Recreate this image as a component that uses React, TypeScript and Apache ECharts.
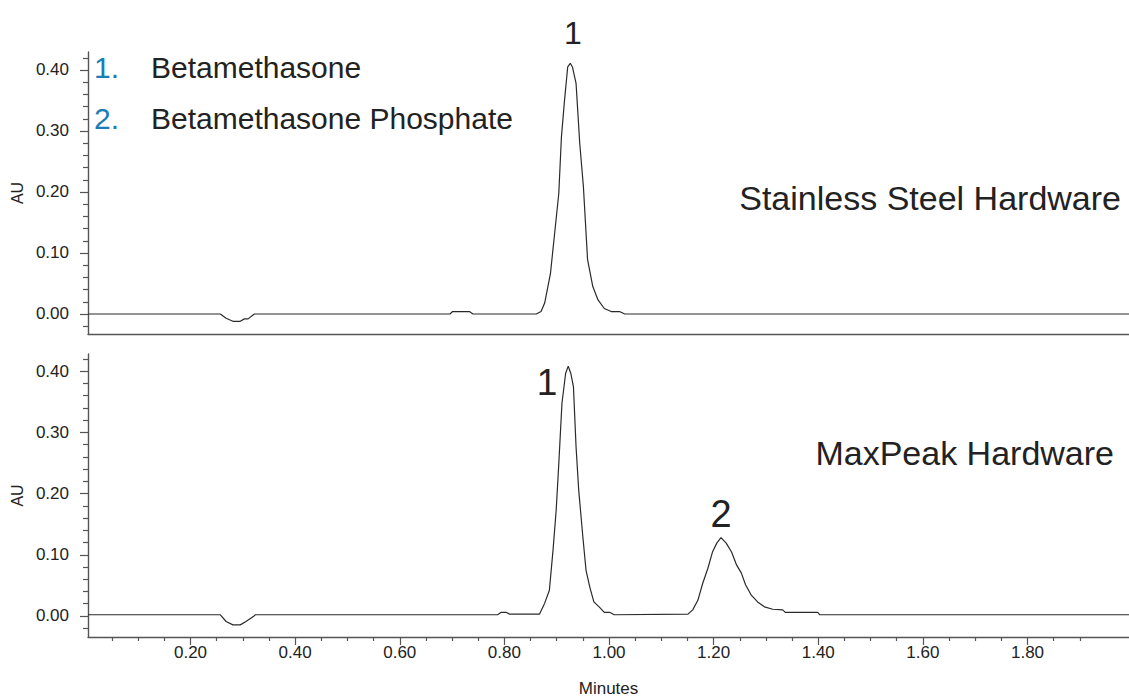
import React, { useEffect, useRef } from "react";
import * as echarts from "echarts";

// ---------- data ----------
const topTime = [0.004, 0.257, 0.268, 0.281, 0.295, 0.303, 0.31, 0.322, 0.696, 0.701, 0.733, 0.74, 0.861, 0.87, 0.877, 0.888, 0.896, 0.904, 0.909, 0.915, 0.921, 0.926, 0.93, 0.937, 0.944, 0.951, 0.959, 0.969, 0.979, 0.991, 1.004, 1.02, 1.03, 1.994];
const topAU = [0, 0, -0.007, -0.012, -0.012, -0.008, -0.008, 0, 0, 0.004, 0.004, 0, 0, 0.004, 0.018, 0.066, 0.132, 0.198, 0.29, 0.351, 0.405, 0.411, 0.405, 0.378, 0.28, 0.209, 0.089, 0.045, 0.023, 0.009, 0.004, 0.004, 0, 0];

const bottomTime = [0.004, 0.257, 0.268, 0.281, 0.295, 0.306, 0.32, 0.324, 0.787, 0.794, 0.803, 0.81, 0.867, 0.877, 0.886, 0.893, 0.899, 0.904, 0.91, 0.917, 0.922, 0.927, 0.932, 0.937, 0.942, 0.95, 0.956, 0.963, 0.971, 0.982, 0.991, 1.001, 1.01, 1.151, 1.16, 1.17, 1.179, 1.189, 1.198, 1.206, 1.214, 1.224, 1.234, 1.244, 1.253, 1.261, 1.272, 1.284, 1.297, 1.313, 1.332, 1.337, 1.399, 1.403, 1.994];
const bottomAU = [0.002, 0.002, -0.009, -0.0145, -0.0145, -0.009, -0.001, 0.002, 0.002, 0.006, 0.006, 0.003, 0.003, 0.021, 0.042, 0.108, 0.173, 0.249, 0.347, 0.396, 0.408, 0.396, 0.374, 0.276, 0.206, 0.129, 0.075, 0.048, 0.023, 0.014, 0.006, 0.006, 0.002, 0.003, 0.01, 0.026, 0.053, 0.078, 0.105, 0.119, 0.128, 0.119, 0.105, 0.083, 0.07, 0.051, 0.034, 0.023, 0.015, 0.011, 0.01, 0.006, 0.006, 0.002, 0.002];

const yMajorTicks = [0, 0.1, 0.2, 0.3, 0.4];
const yMinorTicks = [-0.02, 0.02, 0.04, 0.06, 0.08, 0.12, 0.14, 0.16, 0.18, 0.22, 0.24, 0.26, 0.28, 0.32, 0.34, 0.36, 0.38, 0.42];
const xMajorTicks = [0.2, 0.4, 0.6, 0.8, 1.0, 1.2, 1.4, 1.6, 1.8];
const xMinorTicks = [0.05, 0.1, 0.15, 0.25, 0.3, 0.35, 0.45, 0.5, 0.55, 0.65, 0.7, 0.75, 0.85, 0.9, 0.95, 1.05, 1.1, 1.15, 1.25, 1.3, 1.35, 1.45, 1.5, 1.55, 1.65, 1.7, 1.75, 1.85, 1.9];

const compounds = ["Betamethasone", "Betamethasone Phosphate"];
const panelTitles = ["Stainless Steel Hardware", "MaxPeak Hardware"];

const FONT = "'Liberation Sans', Arial, Helvetica, sans-serif";
const AXIS_COLOR = "#555";
const TEXT_COLOR = "#222";
const BLUE = "#1b7db6";

const X_MIN = 0.004;
const X_MAX = 1.994;

function pair(t: number[], v: number[]) {
  return t.map((x, i) => [x, v[i]]);
}

export default function App() {
  const ref = useRef<HTMLDivElement>(null);
  useEffect(() => {
    if (!ref.current) return;
    const chart = echarts.init(ref.current, undefined, { renderer: "svg" });

    const yMajor = (gridIndex: number, min: number, max: number) => ({
      type: "value",
      gridIndex,
      position: "left",
      min,
      max,
      name: "AU",
      nameLocation: "middle",
      nameGap: 57,
      nameTextStyle: { fontFamily: FONT, fontSize: 16, color: TEXT_COLOR },
      axisLine: { show: true, onZero: false, lineStyle: { color: AXIS_COLOR, width: 1.4 } },
      axisTick: { show: true, length: 8, customValues: yMajorTicks, lineStyle: { color: AXIS_COLOR, width: 1.2 } },
      axisLabel: {
        show: true,
        customValues: yMajorTicks,
        margin: 19,
        fontFamily: FONT,
        fontSize: 17,
        color: TEXT_COLOR,
        formatter: (v: number) => v.toFixed(2),
      },
      splitLine: { show: false },
    });
    const yMinor = (gridIndex: number, min: number, max: number) => ({
      type: "value",
      gridIndex,
      position: "left",
      offset: 0,
      min,
      max,
      axisLine: { show: false, onZero: false },
      axisTick: { show: true, length: 5, customValues: yMinorTicks, lineStyle: { color: AXIS_COLOR, width: 1.2 } },
      axisLabel: { show: false },
      splitLine: { show: false },
    });

    const option: any = {
      animation: false,
      backgroundColor: "#fff",
      grid: [
        { left: 88, right: 0, top: 52, height: 282 },
        { left: 88, right: 0, top: 354, height: 283 },
      ],
      xAxis: [
        {
          type: "value",
          gridIndex: 0,
          position: "bottom",
          min: X_MIN,
          max: X_MAX,
          axisLine: { show: true, onZero: false, lineStyle: { color: AXIS_COLOR, width: 1.4 } },
          axisTick: { show: false },
          axisLabel: { show: false },
          splitLine: { show: false },
        },
        {
          type: "value",
          gridIndex: 1,
          position: "bottom",
          min: X_MIN,
          max: X_MAX,
          name: "Minutes",
          nameLocation: "middle",
          nameGap: 43,
          nameTextStyle: { fontFamily: FONT, fontSize: 17, color: TEXT_COLOR },
          axisLine: { show: true, onZero: false, lineStyle: { color: AXIS_COLOR, width: 1.4 } },
          axisTick: { show: true, length: 8, customValues: xMajorTicks, lineStyle: { color: AXIS_COLOR, width: 1.2 } },
          axisLabel: {
            show: true,
            customValues: xMajorTicks,
            margin: 7,
            fontFamily: FONT,
            fontSize: 17,
            color: TEXT_COLOR,
            formatter: (v: number) => v.toFixed(2),
          },
          splitLine: { show: false },
        },
        {
          type: "value",
          gridIndex: 1,
          position: "bottom",
          offset: 0,
          min: X_MIN,
          max: X_MAX,
          axisLine: { show: false, onZero: false },
          axisTick: { show: true, length: 4, customValues: xMinorTicks, lineStyle: { color: AXIS_COLOR, width: 1.2 } },
          axisLabel: { show: false },
          splitLine: { show: false },
        },
      ],
      yAxis: [
        yMajor(0, -0.0328, 0.4295),
        yMinor(0, -0.0328, 0.4295),
        yMajor(1, -0.0343, 0.4278),
        yMinor(1, -0.0343, 0.4278),
      ],
      series: [
        {
          type: "line",
          xAxisIndex: 0,
          yAxisIndex: 0,
          data: pair(topTime, topAU),
          showSymbol: false,
          symbol: "none",
          lineStyle: { color: "#2a2a2a", width: 1.2 },
        },
        {
          type: "line",
          xAxisIndex: 1,
          yAxisIndex: 2,
          data: pair(bottomTime, bottomAU),
          showSymbol: false,
          symbol: "none",
          lineStyle: { color: "#2a2a2a", width: 1.2 },
        },
      ],
      graphic: [
        { type: "text", x: 94, y: 67.5, style: { text: "1.", font: `30px ${FONT}`, fill: BLUE, verticalAlign: "middle" } },
        { type: "text", x: 151, y: 67.5, style: { text: compounds[0], font: `30px ${FONT}`, fill: TEXT_COLOR, verticalAlign: "middle" } },
        { type: "text", x: 94, y: 118.5, style: { text: "2.", font: `30px ${FONT}`, fill: BLUE, verticalAlign: "middle" } },
        { type: "text", x: 151, y: 118.5, style: { text: compounds[1], font: `30px ${FONT}`, fill: TEXT_COLOR, verticalAlign: "middle" } },
        { type: "text", x: 1121, y: 198, style: { text: panelTitles[0], font: `34px ${FONT}`, fill: TEXT_COLOR, align: "right", verticalAlign: "middle" } },
        { type: "text", x: 1114, y: 453, style: { text: panelTitles[1], font: `34px ${FONT}`, fill: TEXT_COLOR, align: "right", verticalAlign: "middle" } },
        { type: "text", x: 573, y: 33, style: { text: "1", font: `32px ${FONT}`, fill: TEXT_COLOR, align: "center", verticalAlign: "middle" } },
        { type: "text", x: 547, y: 382, style: { text: "1", font: `37px ${FONT}`, fill: TEXT_COLOR, align: "center", verticalAlign: "middle" } },
        { type: "text", x: 721, y: 514, style: { text: "2", font: `38px ${FONT}`, fill: TEXT_COLOR, align: "center", verticalAlign: "middle" } },
      ],
    };
    chart.setOption(option);
    return () => chart.dispose();
  }, []);
  return (
    <div
      ref={ref}
      style={{ position: "fixed", left: 0, top: 0, width: 1129, height: 698, background: "#fff" }}
    />
  );
}
